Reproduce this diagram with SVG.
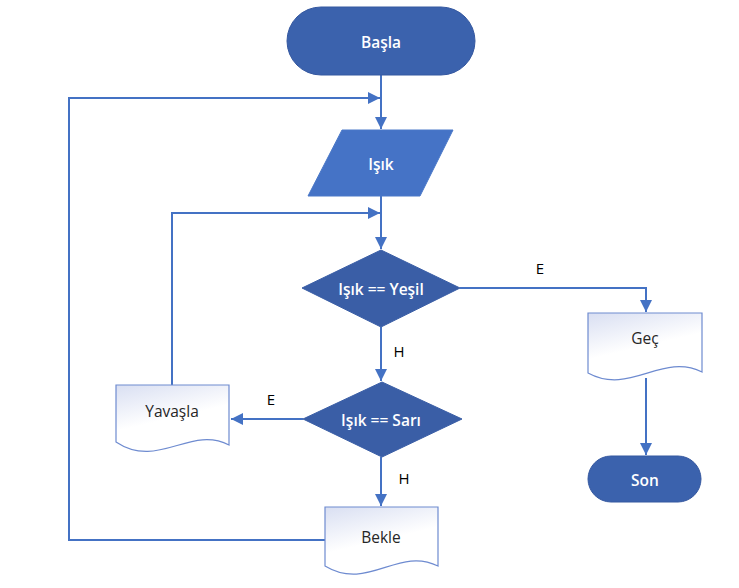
<svg xmlns="http://www.w3.org/2000/svg" width="739" height="588" viewBox="0 0 739 588">
<style>
.term{fill:#3B62AD;stroke:#3558A0;stroke-width:1}
.io{fill:#4573C6;stroke:#4A78C8;stroke-width:1}
.dec{fill:#3A5EA6;stroke:#3A5EA6;stroke-width:1}
.doc{fill:url(#docg);stroke:#6E8BD0;stroke-width:1.2}
.wt{font-family:"Open Sans","Noto Sans",sans-serif;font-size:15.5px;font-weight:600;fill:#FFFFFF;text-anchor:middle;dominant-baseline:central}
.bt{font-family:"Open Sans","Noto Sans",sans-serif;font-size:15.5px;fill:#262626;text-anchor:middle;dominant-baseline:central}
.lbl{font-family:"Open Sans","Noto Sans",sans-serif;font-size:15px;fill:#000000;text-anchor:middle;dominant-baseline:central}
.con{fill:none;stroke:#4472C4;stroke-width:2}
</style>
<defs>
<linearGradient id="docg" x1="0" y1="0" x2="0.4" y2="1">
<stop offset="0" stop-color="#D9DFF2"/>
<stop offset="0.6" stop-color="#FFFFFF"/>
</linearGradient>
<marker id="arr" viewBox="0 0 10 10" refX="10" refY="5" markerWidth="6" markerHeight="6" markerUnits="strokeWidth" orient="auto">
<path d="M0,0 L10,5 L0,10 Z" fill="#4472C4"/>
</marker>
</defs>
<rect width="739" height="588" fill="#FFFFFF"/>
<g id="connectors">
<path class="con" d="M381,75 V129" marker-end="url(#arr)"/>
<path class="con" d="M325,540 H69 V98 H380" marker-end="url(#arr)"/>
<path class="con" d="M381,196 V249" marker-end="url(#arr)"/>
<path class="con" d="M172,385 V213 H380" marker-end="url(#arr)"/>
<path class="con" d="M460,288 H646 V312" marker-end="url(#arr)"/>
<path class="con" d="M381,327 V381" marker-end="url(#arr)"/>
<path class="con" d="M303,419 H231" marker-end="url(#arr)"/>
<path class="con" d="M381,457 V506" marker-end="url(#arr)"/>
<path class="con" d="M646,378 V455" marker-end="url(#arr)"/>
<text class="lbl" x="540" y="268">E</text>
<text class="lbl" x="399" y="351">H</text>
<text class="lbl" x="271" y="399">E</text>
<text class="lbl" x="404" y="478">H</text>
</g>
<g id="basla">
<rect class="term" x="287" y="7" width="188" height="68" rx="34"/>
<text class="wt" x="381" y="42">Başla</text>
</g>
<g id="isik">
<polygon class="io" points="342,130 453,130 420,196 308,196"/>
<text class="wt" x="381" y="164">Işık</text>
</g>
<g id="karar1">
<polygon class="dec" points="381,250 460,288 381,327 302,288"/>
<text class="wt" x="381" y="289">Işık == Yeşil</text>
</g>
<g id="karar2">
<polygon class="dec" points="382,382 462,419 382,457 303,419"/>
<text class="wt" x="381" y="420">Işık == Sarı</text>
</g>
<g id="gec">
<path class="doc" d="M588,313 H702 V372 C662,352 630,396 588,373 Z"/>
<text class="bt" x="645" y="338">Geç</text>
</g>
<g id="son">
<rect class="term" x="588" y="456" width="113" height="46" rx="23"/>
<text class="wt" x="645" y="480">Son</text>
</g>
<g id="yavasla">
<path class="doc" d="M116,385 H229 V445 C190,425 158,470 116,442 Z"/>
<text class="bt" x="172" y="411">Yavaşla</text>
</g>
<g id="bekle">
<path class="doc" d="M325,507 H438 V566 C398,546 368,592 325,566 Z"/>
<text class="bt" x="381" y="537">Bekle</text>
</g>
</svg>
